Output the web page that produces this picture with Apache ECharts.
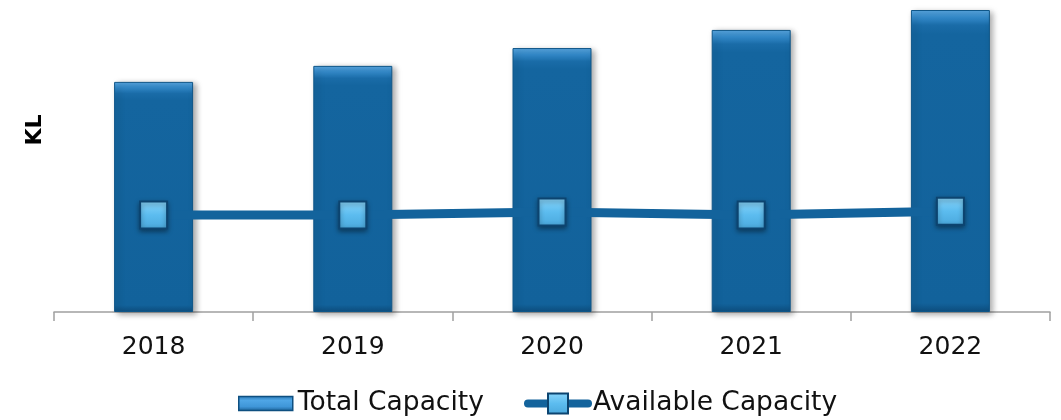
<!DOCTYPE html>
<html><head><meta charset="utf-8">
<script src="https://cdn.jsdelivr.net/npm/echarts@6/dist/echarts.min.js"></script>
<style>html,body{margin:0;padding:0;background:#fff}#c{width:1061px;height:420px}</style>
</head><body><div id="c"></div>
<script>
const categories = ['2018', '2019', '2020', '2021', '2022'];
const totalCapacity = [76.2, 81.5, 87.4, 93.4, 100];
const availableCapacity = [32.1, 32.1, 33.1, 32.1, 33.4];
const seriesNames = ['Total Capacity', 'Available Capacity'];
const yAxisName = 'KL';

const chart = echarts.init(document.getElementById('c'));
const barColor = {
  type: 'linear', x: 0, y: 0, x2: 0, y2: 1,
  colorStops: [
    { offset: 0, color: '#5aa8e2' },
    { offset: 0.025, color: '#3389c9' },
    { offset: 0.05, color: '#1a6ca8' },
    { offset: 0.08, color: '#14659f' },
    { offset: 0.97, color: '#12629b' },
    { offset: 1, color: '#0e4f80' }
  ]
};
const markerColor = {
  type: 'linear', x: 0, y: 0, x2: 0, y2: 1,
  colorStops: [{ offset: 0, color: '#8ad6fb' }, { offset: 0.5, color: '#5cbcef' }, { offset: 1, color: '#4aa8dc' }]
};
const legendText = { fontFamily: 'DejaVu Sans', fontSize: 26.5, color: '#111' };
chart.setOption({
  animation: false,
  grid: { left: 54, right: 11, top: 10, bottom: 108 },
  legend: [
    {
      left: 238, top: 390, padding: 0,
      itemWidth: 54, itemHeight: 14, itemGap: 0,
      textStyle: legendText,
      data: [{ name: seriesNames[0], icon: 'rect',
        itemStyle: { color: { type: 'linear', x: 0, y: 0, x2: 0, y2: 1,
          colorStops: [{ offset: 0, color: '#2a78b4' }, { offset: 0.3, color: '#4fa6e6' }, { offset: 0.7, color: '#3f96d8' }, { offset: 1, color: '#1a5f94' }] },
          borderColor: '#0e4f80', borderWidth: 1.5 } }]
    },
    {
      left: 524, top: 390, padding: 0,
      itemWidth: 60, itemHeight: 25, itemGap: 0,
      textStyle: legendText,
      data: [{ name: seriesNames[1], lineStyle: { color: '#13639c', width: 8, cap: 'round' } }]
    }
  ],
  xAxis: {
    type: 'category',
    data: categories,
    axisLine: { lineStyle: { color: '#a0a0a0', width: 1.5 } },
    axisTick: { show: true, length: 9, lineStyle: { color: '#a0a0a0', width: 1.5 } },
    axisLabel: { fontFamily: 'DejaVu Sans', fontSize: 25, color: '#111', margin: 23 }
  },
  yAxis: {
    type: 'value', min: 0, max: 100,
    name: yAxisName,
    nameLocation: 'middle',
    nameGap: 8,
    nameRotate: 90,
    nameTextStyle: { fontFamily: 'DejaVu Sans', fontSize: 22, fontWeight: 'bold', color: '#000', padding: [0, 0, 0, 62] },
    axisLine: { show: false }, axisTick: { show: false }, axisLabel: { show: false },
    splitLine: { show: false }
  },
  series: [
    {
      name: seriesNames[0], type: 'bar', data: totalCapacity, barWidth: 79,
      itemStyle: {
        color: barColor, borderColor: '#0f5688', borderWidth: 1,
        shadowColor: 'rgba(0,0,0,0.35)', shadowBlur: 6, shadowOffsetX: 3, shadowOffsetY: 2
      }
    },
    {
      name: seriesNames[1], type: 'line', data: availableCapacity,
      symbol: 'rect', symbolSize: 27,
      lineStyle: { color: '#13639c', width: 9, cap: 'round' },
      itemStyle: {
        color: markerColor,
        borderColor: '#0c4470', borderWidth: 2,
        shadowColor: 'rgba(0,0,0,0.4)', shadowBlur: 5, shadowOffsetY: 2
      },
      z: 5
    }
  ]
});
</script></body></html>
